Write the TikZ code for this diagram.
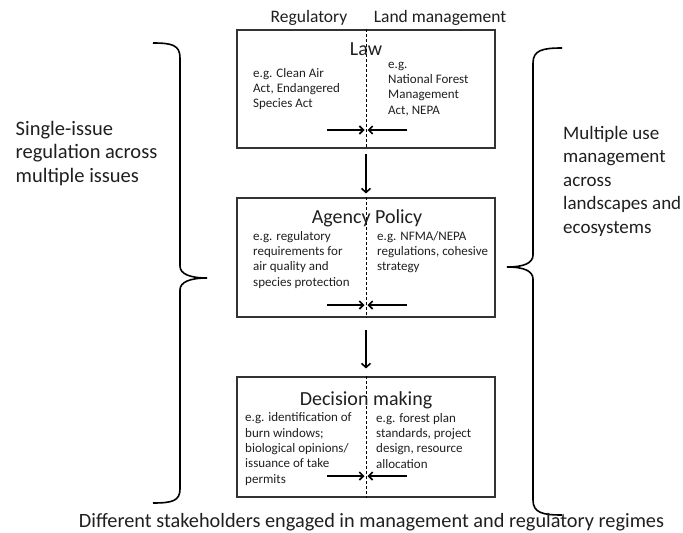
\documentclass[tikz,border=0pt]{standalone}
\usepackage{fontspec}
\setmainfont{Carlito}
\usetikzlibrary{arrows.meta}
\begin{document}
\begin{tikzpicture}[x=1pt,y=-1pt,
  every node/.style={text=black!88},
  box/.style={draw=black!80,line width=1.1pt,inner sep=0pt,minimum width=258pt},
  divider/.style={densely dashed,line width=0.6pt},
  conv/.style={line width=1.6pt,-{Straight Barb[length=4pt,width=8pt]}},
  down/.style={line width=1.6pt,-{Straight Barb[length=4pt,width=9pt]}},
  small/.style={font=\fontsize{13}{15.3}\selectfont,align=left,anchor=base west,inner sep=0pt},
  title/.style={font=\fontsize{20}{24}\selectfont,anchor=base,inner sep=0pt},
  header/.style={font=\fontsize{17.5}{21}\selectfont,anchor=base,inner sep=0pt},
  side/.style={font=\fontsize{20.5}{23.5}\selectfont,align=left,anchor=base west,inner sep=0pt},
  brace/.style={line width=1.6pt}]
\useasboundingbox (0,0) rectangle (683,533);

% headers
\node[header] (hreg) at (309,22) {Regulatory};
\node[header] (hland) at (440,22) {Land management};

% boxes
\node[box,minimum height=118pt] (law) at (366,89) {};
\node[box,minimum height=119pt] (agency) at (366,257.5) {};
\node[box,minimum height=120pt] (decision) at (366,437) {};

\draw[divider] (law.north) -- (law.south);
\draw[divider] (agency.north) -- (agency.south);
\draw[divider] (decision.north) -- (decision.south);

% titles
\node[title] (tlaw) at (366,55) {Law};
\node[title] (tagency) at (367,223) {Agency Policy};
\node[title] (tdecision) at (366,405) {Decision making};

% law texts (anchored at the baseline of the last line)
\node[small] (lawl) at (253,107.6) {e.g. Clean Air\\Act, Endangered\\Species Act};
\node[small] (lawr) at (388,114) {e.g.\\National Forest\\Management\\Act, NEPA};
% agency texts
\node[small] (agl) at (253,286) {e.g. regulatory\\requirements for\\air quality and\\species protection};
\node[small] (agr) at (377,270.6) {e.g. NFMA/NEPA\\regulations, cohesive\\strategy};
% decision texts
\node[small] (del) at (245,483) {e.g. identification of\\burn windows;\\biological opinions/\\issuance of take\\permits};
\node[small] (der) at (376,468) {e.g. forest plan\\standards, project\\design, resource\\allocation};

% converging arrows
\coordinate (lawL) at (327,130); \coordinate (lawR) at (407,130);
\coordinate (lawML) at (364.5,130); \coordinate (lawMR) at (367.5,130);
\coordinate (agL) at (327,305); \coordinate (agR) at (407,305);
\coordinate (agML) at (364.5,305); \coordinate (agMR) at (367.5,305);
\coordinate (deL) at (327,476); \coordinate (deR) at (407,476);
\coordinate (deML) at (364.5,476); \coordinate (deMR) at (367.5,476);
\draw[conv] (lawL) -- (lawML); \draw[conv] (lawR) -- (lawMR);
\draw[conv] (agL) -- (agML); \draw[conv] (agR) -- (agMR);
\draw[conv] (deL) -- (deML); \draw[conv] (deR) -- (deMR);

% vertical arrows
\draw[down,shorten <=5pt,shorten >=4pt] (law.south) -- (agency.north);
\draw[down,shorten <=12pt,shorten >=8pt] (agency.south) -- (decision.north);

% braces
\draw[brace] (153,43) .. controls (172,43) and (180,45) .. (180,58) -- (180,266)
  .. controls (180,274) and (190,278) .. (207,278)
  .. controls (190,278) and (180,282) .. (180,290) -- (180,489)
  .. controls (180,501) and (172,503) .. (153,503);
\draw[brace] (562,48) .. controls (543,48) and (533,50) .. (533,63) -- (533,255)
  .. controls (533,263) and (524,267) .. (507,267)
  .. controls (524,267) and (533,271) .. (533,279) -- (533,500)
  .. controls (533,513) and (543,515) .. (562,515);

% side texts (anchored at the baseline of the last line)
\node[side] (lefttext) at (15.5,182) {Single-issue\\regulation across\\multiple issues};
\node[side,font=\fontsize{19}{23.5}\selectfont] (righttext) at (563,233) {Multiple use\\management\\across\\landscapes and\\ecosystems};

% bottom
\node[side,font=\fontsize{20.3}{24}\selectfont,anchor=base] (bottom) at (371.5,527) {Different stakeholders engaged in management and regulatory regimes};
\end{tikzpicture}
\end{document}
